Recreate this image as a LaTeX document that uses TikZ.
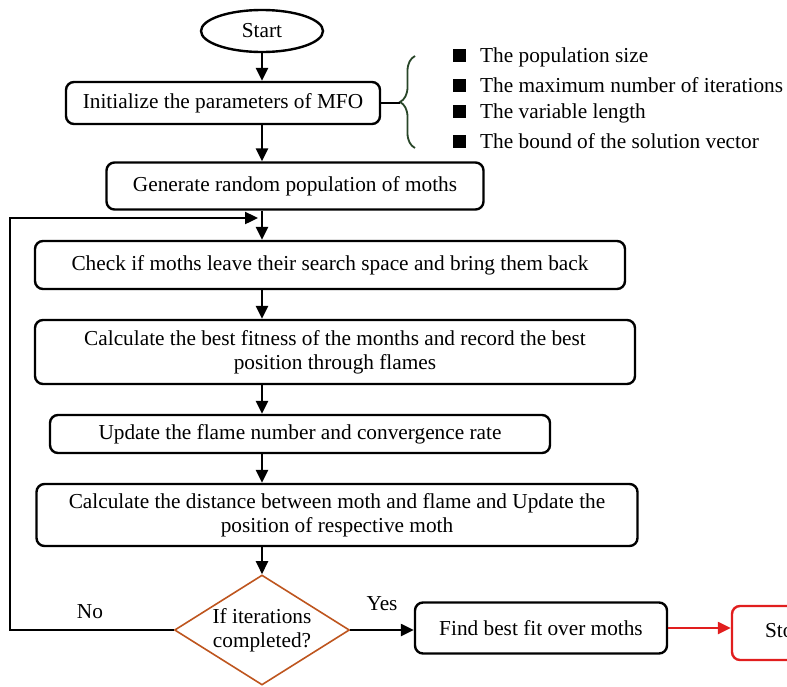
\documentclass[tikz,border=0pt]{standalone}
\usepackage{fontspec}
\setmainfont{Liberation Serif}
\usetikzlibrary{shapes.geometric,arrows.meta,decorations.pathreplacing}
\definecolor{condbrown}{RGB}{190,85,30}
\definecolor{stopred}{RGB}{225,30,30}
\definecolor{bracegreen}{RGB}{40,70,40}
\tikzset{
  box/.style={draw, rounded corners=8pt, line width=2.4pt, inner sep=0pt, align=center},
  arr/.style={line width=2.4pt, -{Triangle[length=13pt,width=12pt]}},
  item/.style={anchor=west, inner sep=0pt},
}
\begin{document}
\begin{tikzpicture}[x=1pt,y=-1pt,font=\fontsize{21.3}{24}\selectfont]
      \useasboundingbox (0,0) rectangle (787,686);
      \node[draw, ellipse, line width=2.4pt, minimum width=122pt, minimum height=42pt, inner sep=0pt] (start) at (262,31) {Start};
      \node[box, minimum width=314pt, minimum height=42pt] (init) at (223,103) {Initialize the parameters of MFO};
      \node[box, minimum width=377pt, minimum height=47pt] (gen) at (295,186) {Generate random population of moths};
      \node[box, minimum width=590pt, minimum height=48pt] (check) at (330,265) {Check if moths leave their search space and bring them back};
      \node[box, minimum width=600pt, minimum height=64pt] (calc) at (335,352) {Calculate the best fitness of the months and record the best\\position through flames};
      \node[box, minimum width=500pt, minimum height=38pt] (upd) at (300,434) {Update the flame number and convergence rate};
      \node[box, minimum width=601pt, minimum height=62pt] (dist) at (337,515) {Calculate the distance between moth and flame and Update the\\position of respective moth};
      \node[draw=condbrown, diamond, line width=1.6pt, aspect=1.59, inner sep=0pt, align=center, minimum width=175pt, minimum height=110pt] (cond) at (262,630) {If iterations\\completed?};
      \node[box, minimum width=252pt, minimum height=51pt] (find) at (541,628) {Find best fit over moths};
      \node[box, draw=stopred, minimum width=110pt, minimum height=54pt, text width=96pt, align=left] (stop) at (787,633) {\hspace*{26pt}Stop};
      \node (yes) at (382,604) {Yes};
      \node (no) at (90,612) {No};
      % parameter list
      \coordinate (bracetip) at (400,103);
      \draw[bracegreen, line width=1.8pt, decorate, decoration={brace, amplitude=15pt}] (415,148) -- (415,56);
      \draw[line width=2.4pt] (init.east) -- (bracetip);
      \node[item] (p1) at (453,57) {\rule{13pt}{13pt}\hspace{14pt}The population size};
      \node[item] (p2) at (453,85) {\rule{13pt}{13pt}\hspace{14pt}The maximum number of iterations};
      \node[item] (p3) at (453,113) {\rule{13pt}{13pt}\hspace{14pt}The variable length};
      \node[item] (p4) at (453,141) {\rule{13pt}{13pt}\hspace{14pt}The bound of the solution vector};
      % main flow
      \draw[arr] (start.south) -- (start.south |- init.north);
      \draw[arr] (init.south -| start) -- (gen.north -| start);
      \draw[arr] (gen.south -| start) -- (check.north -| start);
      \draw[arr] (check.south -| start) -- (calc.north -| start);
      \draw[arr] (calc.south -| start) -- (upd.north -| start);
      \draw[arr] (upd.south -| start) -- (dist.north -| start);
      \draw[arr] (dist.south -| start) -- (cond.north);
      \draw[arr] (cond.east) -- (cond.east -| find.west);
      \draw[arr, stopred] (find.east) -- (find.east -| stop.west);
      % loop back
      \coordinate (loopcorner) at (10,218);
      \coordinate (join) at (258,218);
      \draw[arr] (cond.west) -| (loopcorner) -- (join);
    \end{tikzpicture}
\end{document}
